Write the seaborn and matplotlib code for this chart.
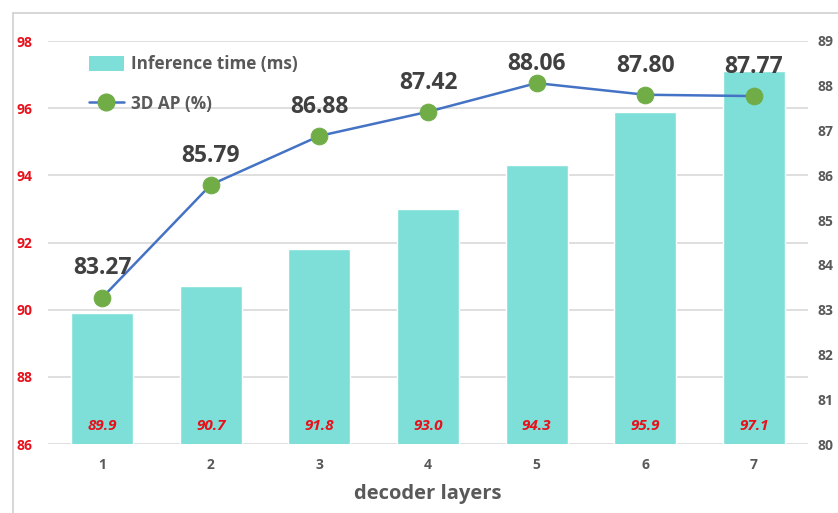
import matplotlib
matplotlib.use("Agg")
import matplotlib.pyplot as plt
from matplotlib.lines import Line2D
from matplotlib.patches import Patch
import numpy as np
import pandas as pd
import seaborn as sns

# Data
layers = ["1", "2", "3", "4", "5", "6", "7"]
inference_ms = [89.9, 90.7, 91.8, 93.0, 94.3, 95.9, 97.1]
ap_3d = [83.27, 85.79, 86.88, 87.42, 88.06, 87.80, 87.77]
left_ticks = [86, 88, 90, 92, 94, 96, 98]
right_ticks = [80, 81, 82, 83, 84, 85, 86, 87, 88, 89]

BAR = "#7EDFD8"
LINE = "#4472C4"
MARK = "#70AD47"
GRAY = "#595959"
DARK = "#404040"
RED = "#E8101A"
GRID = "#D9D9D9"

sns.set_theme(style="white")
plt.rcParams["font.family"] = ["Open Sans", "DejaVu Sans"]

W, H = 838, 513
fig = plt.figure(figsize=(W / 100, H / 100), dpi=100)
ax = fig.add_axes([48 / W, (H - 444) / H, (808 - 48) / W, (444 - 41) / H])

df = pd.DataFrame({"layers": layers, "time": inference_ms, "ap": ap_3d})

sns.barplot(data=df, x="layers", y="time", color=BAR, saturation=1,
            width=0.57, ax=ax, zorder=2)
ax.set_ylim(86, 98)
ax.set_xlim(-0.5, 6.5)
ax.set_yticks(left_ticks)
ax.yaxis.grid(True, color=GRID, linewidth=1.2, zorder=0)
ax.set_axisbelow(True)
for s in ax.spines.values():
    s.set_visible(False)
ax.tick_params(axis="y", length=0, pad=11, labelsize=10, labelcolor=RED)
ax.tick_params(axis="x", length=0, pad=10, labelsize=10, labelcolor=GRAY)
for lab in ax.get_yticklabels() + ax.get_xticklabels():
    lab.set_fontweight("bold")
ax.set_xlabel("decoder layers", fontsize=14.5, fontweight="bold", color=GRAY,
              labelpad=9)
ax.set_ylabel("")

for i, v in enumerate(inference_ms):
    ax.text(i, 86.55, f"{v:.1f}", ha="center", va="center", color=RED,
            fontsize=11, fontweight="bold", fontstyle="italic", zorder=3)

ax2 = ax.twinx()
sns.lineplot(x=np.arange(len(layers)), y=ap_3d, ax=ax2, color=LINE,
             linewidth=1.8, marker="o", markersize=12,
             markerfacecolor=MARK, markeredgecolor=MARK, zorder=4)
ax2.set_ylim(80, 89)
ax2.set_yticks(right_ticks)
for s in ax2.spines.values():
    s.set_visible(False)
ax2.tick_params(axis="y", length=0, pad=7, labelsize=10, labelcolor=GRAY)
for lab in ax2.get_yticklabels():
    lab.set_fontweight("bold")
ax2.grid(False)

# Value labels above the markers (the peak label sits lower to stay inside the frame)
label_offsets = [21, 21, 21, 21, 13.5, 21, 21]
for i, (v, off) in enumerate(zip(ap_3d, label_offsets)):
    ax2.annotate(f"{v:.2f}", (i, v), xytext=(0, off), textcoords="offset points",
                 ha="center", va="center", fontsize=16.5, fontweight="bold",
                 color=DARK, zorder=5)

handles = [
    Patch(facecolor=BAR, edgecolor="none"),
    Line2D([], [], color=LINE, linewidth=1.8, marker="o", markersize=12,
           markerfacecolor=MARK, markeredgecolor=MARK),
]
leg = ax2.legend(handles, ["Inference time (ms)", "3D AP (%)"],
                 loc="upper left", bbox_to_anchor=(74 / W, (H - 40) / H),
                 bbox_transform=fig.transFigure, frameon=False,
                 prop={"size": 12.3, "weight": "bold"}, labelspacing=1.25,
                 handlelength=2.0, handleheight=1.0, handletextpad=0.45)
for t in leg.get_texts():
    t.set_color(GRAY)

# Frame lines around the chart area
fig.add_artist(Line2D([12.5 / W, 12.5 / W], [0, (H - 12.5) / H],
                      transform=fig.transFigure, color="#D0D0D0", linewidth=1.2))
fig.add_artist(Line2D([12.5 / W, 1], [(H - 12.5) / H, (H - 12.5) / H],
                      transform=fig.transFigure, color="#D0D0D0", linewidth=1.2))

fig.savefig("out.png", dpi=100, facecolor="white")
